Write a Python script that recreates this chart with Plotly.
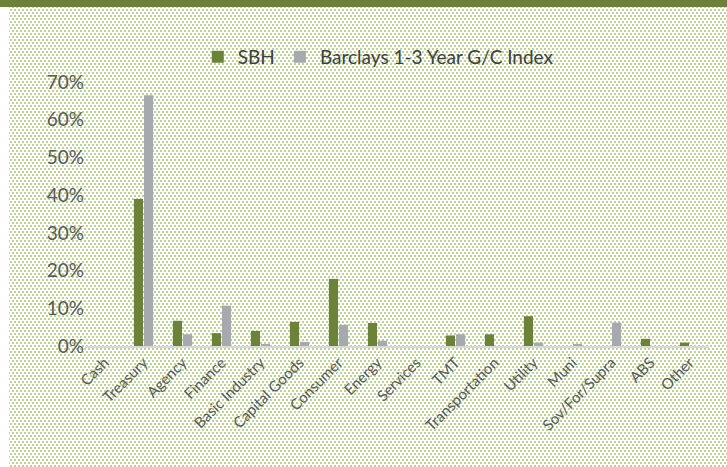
import base64
import plotly.graph_objects as go

categories = ["Cash", "Treasury", "Agency", "Finance", "Basic Industry", "Capital Goods",
              "Consumer", "Energy", "Services", "TMT", "Transportation", "Utility",
              "Muni", "Sov/For/Supra", "ABS", "Other"]
sbh = [0.0, 0.390, 0.067, 0.034, 0.040, 0.064, 0.178, 0.061, 0.0, 0.028, 0.031, 0.079,
       0.0, 0.0, 0.019, 0.009]
barclays = [0.0, 0.665, 0.031, 0.107, 0.004, 0.011, 0.056, 0.014, 0.0, 0.031, 0.0, 0.009,
            0.004, 0.062, 0.0, 0.0]

W, H = 727, 467
L, R, T, B = 85, 18, 82, 121
pw, ph = W - L - R, H - T - B

svg = f'''<svg xmlns="http://www.w3.org/2000/svg" width="{W}" height="{H}" viewBox="0 0 {W} {H}" shape-rendering="crispEdges">
<defs><pattern id="p" width="4" height="6" patternUnits="userSpaceOnUse">
<rect x="0" y="0" width="2" height="2" fill="#bcd393"/>
<rect x="2" y="3" width="2" height="2" fill="#bcd393"/>
</pattern></defs>
<rect x="0" y="0" width="{W}" height="{H}" fill="#ffffff"/>
<rect x="9" y="7" width="{W-9}" height="{H-7}" fill="url(#p)"/>
<rect x="0" y="0" width="{W}" height="7" fill="#6b8238"/>
</svg>'''
src = "data:image/svg+xml;base64," + base64.b64encode(svg.encode()).decode()

fig = go.Figure()
fig.add_bar(x=categories, y=sbh, name="SBH", marker=dict(color="#6b8238", line=dict(width=0)))
fig.add_bar(x=categories, y=barclays, name="Barclays 1-3 Year G/C Index",
            marker=dict(color="#a6a9ad", line=dict(width=0)))

fig.update_layout(
    width=W, height=H,
    margin=dict(l=L, r=R, t=T, b=B, autoexpand=False),
    paper_bgcolor="white",
    plot_bgcolor="rgba(0,0,0,0)",
    font=dict(family="Lato", color="#595959", size=14),
    barmode="group",
    bargap=0.48,
    bargroupgap=0.1,
    showlegend=True,
    legend=dict(orientation="h", x=0.47, xanchor="center", y=1.095, yanchor="middle",
                font=dict(size=19, color="#404040"), bgcolor="rgba(0,0,0,0)",
                itemwidth=30),
    images=[dict(source=src, xref="paper", yref="paper",
                 x=-L / pw, y=(ph + T) / ph, sizex=W / pw, sizey=H / ph,
                 xanchor="left", yanchor="top", sizing="stretch", layer="below")],
)
fig.update_xaxes(showline=True, linecolor="#d9d9d9", linewidth=2, showgrid=False,
                 tickangle=-45, tickfont=dict(size=15, color="#595959"), ticks="",
                 automargin=False)
fig.update_yaxes(range=[0, 0.7], dtick=0.1, tickformat=".0%", showgrid=False,
                 zeroline=False, showline=False, ticks="", automargin=False,
                 tickfont=dict(size=19, color="#595959"))

fig.write_html("out.html", config={"displayModeBar": False},
               post_script="document.body.style.margin='0';document.body.style.overflow='hidden';")
